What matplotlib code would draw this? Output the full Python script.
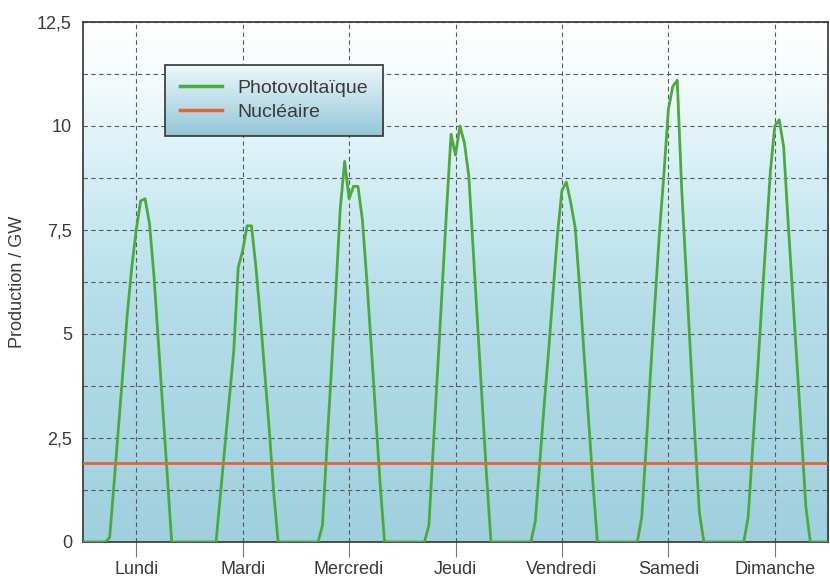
import matplotlib
matplotlib.use("Agg")
import matplotlib.pyplot as plt
import numpy as np
from matplotlib.colors import LinearSegmentedColormap
from matplotlib.ticker import MultipleLocator, FuncFormatter

# Data: German production over one week (GW), hourly from 5 h to 20 h each day
JOURS = ["Lundi", "Mardi", "Mercredi", "Jeudi", "Vendredi", "Samedi", "Dimanche"]
HEURES = [5, 6, 7, 8, 9, 10, 11, 12, 13, 14, 15, 16, 17, 18, 19, 20]
PV_LUNDI    = [0, 0.1, 1.4, 2.75, 4.1, 5.5, 6.6, 7.5, 8.2, 8.25, 7.65, 6.4, 4.8, 3.2, 1.6, 0]
PV_MARDI    = [0, 0.0, 1.15, 2.3, 3.45, 4.6, 6.6, 7.0, 7.6, 7.6, 6.6, 5.4, 4.05, 2.7, 1.2, 0]
PV_MERCREDI = [0, 0.4, 2.3, 4.1, 6.0, 8.0, 9.15, 8.25, 8.55, 8.55, 7.75, 6.3, 4.7, 3.05, 1.4, 0]
PV_JEUDI    = [0, 0.4, 2.3, 4.2, 6.1, 8.0, 9.8, 9.3, 10.0, 9.6, 8.8, 7.0, 5.2, 3.4, 1.6, 0]
PV_VENDREDI = [0, 0.5, 1.9, 3.3, 4.6, 6.0, 7.4, 8.45, 8.65, 8.15, 7.55, 6.1, 4.5, 2.95, 1.4, 0]
PV_SAMEDI   = [0, 0.6, 2.3, 4.1, 5.8, 7.45, 8.85, 10.4, 10.95, 11.1, 8.5, 6.5, 4.5, 2.5, 0.7, 0]
PV_DIMANCHE = [0, 0.6, 2.25, 3.9, 5.6, 7.25, 8.9, 10.0, 10.15, 9.5, 7.7, 6.0, 4.3, 2.6, 0.85, 0]
NUCLEAIRE = [1.9, 1.9, 1.9, 1.9, 1.9, 1.9, 1.9, 1.9]   # at day boundaries

PV_JOURS = [PV_LUNDI, PV_MARDI, PV_MERCREDI, PV_JEUDI, PV_VENDREDI, PV_SAMEDI, PV_DIMANCHE]

VERT = "#4aab3c"
ORANGE = "#e8633a"
GRIS = "#3a3a3a"

plt.rcParams["font.family"] = ["Liberation Sans", "DejaVu Sans"]

# build the weekly series (hours since Monday 0 h)
x_pv, y_pv = [0.0], [0.0]
for d, vals in enumerate(PV_JOURS):
    for h, v in zip(HEURES, vals):
        x_pv.append(d * 24 + h)
        y_pv.append(v)
x_pv.append(7 * 24)
y_pv.append(0.0)
x_nuc = [24 * d for d in range(len(NUCLEAIRE))]

fig = plt.figure(figsize=(8.3, 5.79), dpi=100)
ax = fig.add_axes([0.1, 0.064, 0.8976, 0.898])

# background gradient
fond = LinearSegmentedColormap.from_list(
    "fond", [(0, "#a0d0de"), (0.45, "#b4dde9"), (0.72, "#d6eff6"), (0.9, "#f6fcfd"), (1, "#ffffff")])
grad = np.linspace(0, 1, 256).reshape(-1, 1)
ax.imshow(grad, cmap=fond, origin="lower", aspect="auto", extent=[0, 1, 0, 1],
          transform=ax.transAxes, zorder=0)

ax.plot(x_pv, y_pv, color=VERT, lw=2.0, label="Photovoltaïque", zorder=3)
ax.plot(x_nuc, NUCLEAIRE, color=ORANGE, lw=2.0, label="Nucléaire", zorder=3)

ax.set_xlim(0, 7 * 24)
ax.set_ylim(0, 12.5)
ax.set_xticks([24 * d + 12 for d in range(7)])
ax.set_xticklabels(JOURS)
ax.yaxis.set_major_locator(MultipleLocator(2.5))
ax.yaxis.set_minor_locator(MultipleLocator(1.25))
ax.yaxis.set_major_formatter(FuncFormatter(lambda v, p: f"{v:g}".replace(".", ",")))

ax.grid(True, which="both", axis="y", color="#5a5a5a", ls=(0, (4, 3)), lw=0.8, zorder=1)
ax.grid(True, which="major", axis="x", color="#5a5a5a", ls=(0, (4, 3)), lw=0.8, zorder=1)
ax.tick_params(axis="x", length=11, width=0.8, color="#777777", labelsize=13,
               labelcolor=GRIS, pad=3)
ax.tick_params(axis="y", which="both", length=0, labelsize=13, labelcolor=GRIS, pad=8)
ax.set_ylabel("Production / GW", fontsize=13, color=GRIS, labelpad=8)
for s in ax.spines.values():
    s.set_color("#333333")
    s.set_linewidth(1.2)

leg = ax.legend(loc="upper left", bbox_to_anchor=(0.11, 0.918), fontsize=14,
                frameon=True, fancybox=False, edgecolor="#333333", facecolor="none",
                framealpha=1, handlelength=2.2, handletextpad=0.8, borderpad=0.75,
                labelspacing=0.35, borderaxespad=0)
leg.get_frame().set_linewidth(1.2)
leg.set_zorder(6)
for line in leg.get_lines():
    line.set_linewidth(2.5)
for t in leg.get_texts():
    t.set_color(GRIS)

# gradient behind the legend box
fig.canvas.draw()
bb = leg.get_window_extent().transformed(ax.transAxes.inverted())
fond_leg = LinearSegmentedColormap.from_list("fl", [(0, "#93c6d8"), (1, "#eef8fb")])
ax.imshow(grad, cmap=fond_leg, origin="lower", aspect="auto",
          extent=[bb.x0, bb.x1, bb.y0, bb.y1], transform=ax.transAxes, zorder=5)
ax.set_xlim(0, 7 * 24)
ax.set_ylim(0, 12.5)

fig.savefig("out.png", dpi=100)
